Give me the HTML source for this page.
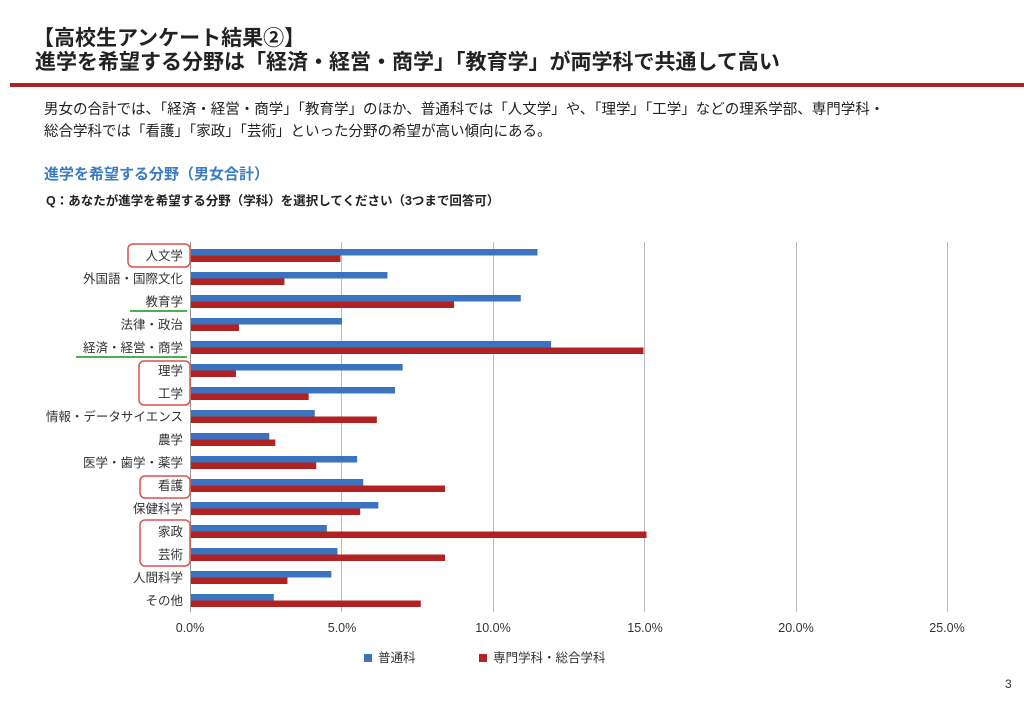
<!DOCTYPE html>
<html><head><meta charset="utf-8"><style>
body{margin:0;width:1024px;height:701px;background:#fff;position:relative;overflow:hidden;font-family:"Liberation Sans","Noto Sans CJK JP",sans-serif;color:#222}
.a{position:absolute;white-space:nowrap}
</style></head><body>
<div class="a" style="left:33px;top:27px;font-size:21px;font-weight:bold;line-height:24px">【高校生アンケート結果②】</div>
<div class="a" style="left:35px;top:51px;font-size:21px;font-weight:bold;line-height:24px">進学を希望する分野は「経済・経営・商学」「教育学」が両学科で共通して高い</div>
<div class="a" style="left:10px;top:83px;width:1014px;height:4px;background:#b22222"></div>
<div class="a" style="left:44px;top:99px;font-size:14.5px;line-height:22px">男女の合計では、「経済・経営・商学」「教育学」のほか、普通科では「人文学」や、「理学」「工学」などの理系学部、専門学科・<br>総合学科では「看護」「家政」「芸術」といった分野の希望が高い傾向にある。</div>
<div class="a" style="left:44px;top:163px;font-size:15px;font-weight:bold;color:#3a7cc3">進学を希望する分野（男女合計）</div>
<div class="a" style="left:46px;top:190px;font-size:12.5px;font-weight:bold">Q：あなたが進学を希望する分野（学科）を選択してください（3つまで回答可）</div>
<svg class="a" style="left:0;top:0" width="1024" height="701">
<g stroke="#bbb" stroke-width="1">
<line x1="341.5" y1="242" x2="341.5" y2="612"/><line x1="493.5" y1="242" x2="493.5" y2="612"/><line x1="644.5" y1="242" x2="644.5" y2="612"/><line x1="796.5" y1="242" x2="796.5" y2="612"/><line x1="947.5" y1="242" x2="947.5" y2="612"/>
</g>
<g id="bars"></g>
<line x1="190.5" y1="242" x2="190.5" y2="612" stroke="#999"/>
<g font-size="12.5" fill="#333" text-anchor="middle" font-family="Liberation Sans, sans-serif">
<text x="190" y="632">0.0%</text><text x="342" y="632">5.0%</text><text x="493" y="632">10.0%</text><text x="645" y="632">15.0%</text><text x="796" y="632">20.0%</text><text x="947" y="632">25.0%</text>
</g>
<g font-size="12.5" fill="#333" text-anchor="end" font-family="Liberation Sans, Noto Sans CJK JP, sans-serif" id="labels"></g>
<g fill="none" stroke="#d9534f" stroke-width="1.5">
<rect x="128" y="244" width="62" height="23" rx="5"/>
<rect x="139" y="361" width="51" height="44" rx="5"/>
<rect x="140" y="476" width="50" height="22" rx="5"/>
<rect x="140" y="520" width="50" height="46" rx="5"/>
</g>
<g stroke="#4caf50" stroke-width="2">
<line x1="130" y1="311" x2="187" y2="311"/><line x1="76" y1="357" x2="187" y2="357"/>
</g>
<rect x="364" y="654" width="8" height="8" fill="#3a73c0"/>
<text x="378" y="662" font-size="12.5" fill="#333">普通科</text>
<rect x="479" y="654" width="8" height="8" fill="#b22222"/>
<text x="493" y="662" font-size="12.5" fill="#333">専門学科・総合学科</text>
<text x="1005" y="688" font-size="12" fill="#333">3</text>
</svg>
<script>
var d=[["人文学",11.45,4.95],["外国語・国際文化",6.5,3.1],["教育学",10.9,8.7],["法律・政治",5.0,1.6],["経済・経営・商学",11.9,14.95],["理学",7.0,1.5],["工学",6.75,3.9],["情報・データサイエンス",4.1,6.15],["農学",2.6,2.8],["医学・歯学・薬学",5.5,4.15],["看護",5.7,8.4],["保健科学",6.2,5.6],["家政",4.5,15.05],["芸術",4.85,8.4],["人間科学",4.65,3.2],["その他",2.75,7.6]];
var ns="http://www.w3.org/2000/svg",b=document.getElementById("bars"),l=document.getElementById("labels");
d.forEach(function(r,i){var y=249+23*i;
[[r[1],y,"#3a73c0"],[r[2],y+6.5,"#b22222"]].forEach(function(q){var e=document.createElementNS(ns,"rect");e.setAttribute("x",190.5);e.setAttribute("y",q[1]);e.setAttribute("width",q[0]*30.3);e.setAttribute("height",6.5);e.setAttribute("fill",q[2]);b.appendChild(e);});
var t=document.createElementNS(ns,"text");t.setAttribute("x",183);t.setAttribute("y",y+11);t.textContent=r[0];l.appendChild(t);});
</script>
</body></html>
